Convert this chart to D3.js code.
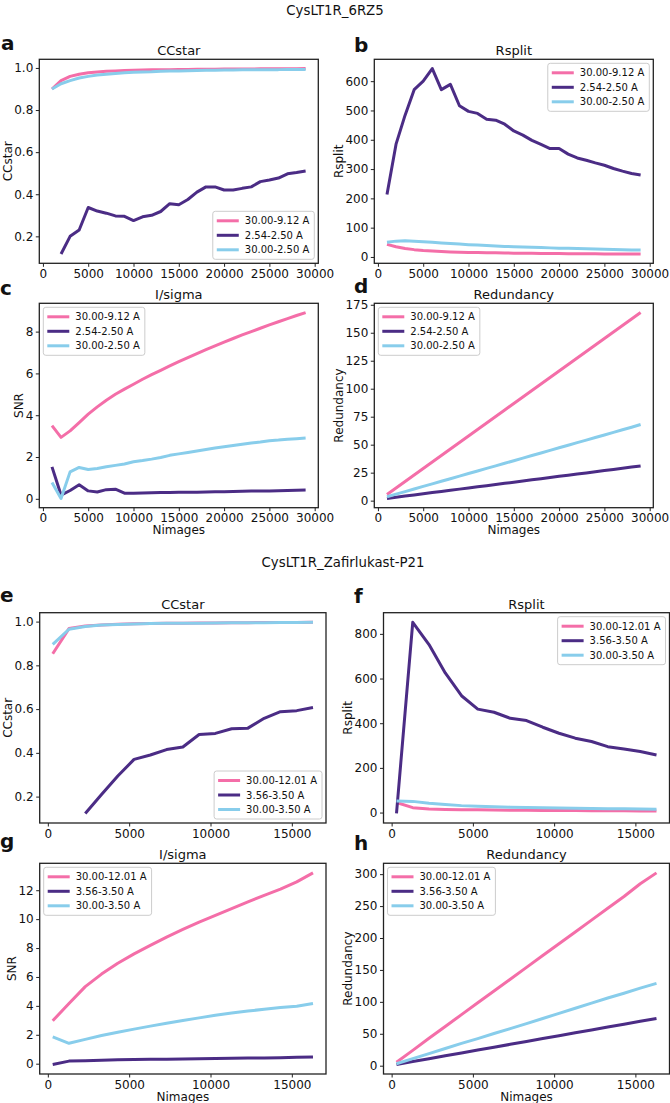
<!DOCTYPE html>
<html><head><meta charset="utf-8">
<script src="https://cdn.jsdelivr.net/npm/d3@7"></script>
<style>body{margin:0;background:#fff} svg{display:block} text{font-family:"DejaVu Sans",sans-serif;fill:#111}</style>
</head><body><svg id="c" width="670" height="1103"></svg>
<script>
// ---------- data ----------
const xTop = [1000,2000,3000,4000,5000,6000,7000,8000,9000,10000,11000,12000,13000,14000,15000,16000,17000,18000,19000,20000,21000,22000,23000,24000,25000,26000,27000,28000,29000];
const xBot = [300,1300,2300,3300,4300,5300,6300,7300,8300,9300,10300,11300,12300,13300,14300,15300,16300];
const namesTop = ["30.00-9.12 A","2.54-2.50 A","30.00-2.50 A"];
const namesBot = ["30.00-12.01 A","3.56-3.50 A","30.00-3.50 A"];

const aLow   = [0.900,0.940,0.960,0.970,0.977,0.981,0.984,0.986,0.988,0.989,0.990,0.991,0.992,0.992,0.993,0.993,0.994,0.994,0.994,0.995,0.995,0.995,0.995,0.996,0.996,0.996,0.996,0.996,0.997];
const aShell = [null,0.116,0.200,0.230,0.337,0.320,0.310,0.297,0.295,0.275,0.293,0.300,0.318,0.355,0.350,0.375,0.410,0.435,0.435,0.420,0.420,0.428,0.435,0.460,0.468,0.477,0.497,0.503,0.510];
const aAll   = [0.900,0.925,0.940,0.952,0.960,0.966,0.970,0.974,0.977,0.979,0.981,0.982,0.984,0.985,0.986,0.987,0.988,0.989,0.989,0.990,0.990,0.991,0.991,0.992,0.992,0.992,0.993,0.993,0.993];

const bLow   = [43,35,29,25,22,20,18.5,17,16,15.5,15,14.5,14,13.5,13,12.8,12.5,12.2,12,11.5,11.3,11,10.8,10.6,10.5,10.3,10.2,10.1,10];
const bShell = [213,385,484,571,600,643,571,589,516,497,490,470,467,453,430,416,398,384,370,370,351,338,330,321,313,302,293,285,280];
const bAll   = [50,54,55,54,52,50,48,46,44,42,40.5,39,37.5,36,35,34,33,32,31,30,29.3,28.5,27.8,27,26.3,25.5,24.8,24,23.5];

const cLow   = [3.50,2.94,3.25,3.65,4.05,4.40,4.72,5.00,5.25,5.48,5.72,5.94,6.15,6.36,6.56,6.76,6.95,7.14,7.32,7.50,7.67,7.84,8.00,8.16,8.32,8.47,8.62,8.77,8.91];
const cShell = [1.53,0.18,0.40,0.67,0.38,0.33,0.44,0.46,0.27,0.27,0.28,0.29,0.30,0.30,0.31,0.32,0.32,0.33,0.34,0.34,0.35,0.36,0.37,0.38,0.38,0.39,0.40,0.41,0.42];
const cAll   = [0.78,0.02,1.29,1.50,1.40,1.45,1.53,1.60,1.67,1.77,1.83,1.90,1.98,2.08,2.15,2.22,2.29,2.36,2.43,2.49,2.55,2.61,2.67,2.72,2.78,2.81,2.85,2.88,2.91];

const dLow   = [5.5,11.3,17.1,22.9,28.7,34.5,40.3,46.2,52.0,57.8,63.6,69.4,75.2,81.0,86.8,92.6,98.4,104.2,110.0,115.8,121.6,127.4,133.2,139.0,144.8,150.6,156.4,162.2,168.0];
const dShell = [2.0,3.0,4.1,5.1,6.1,7.2,8.2,9.3,10.3,11.3,12.4,13.4,14.4,15.5,16.5,17.6,18.6,19.6,20.7,21.7,22.7,23.8,24.8,25.8,26.9,27.9,28.9,30.0,31.0];
const dAll   = [3.5,5.8,8.1,10.4,12.7,15.0,17.3,19.6,21.9,24.2,26.5,28.8,31.1,33.4,35.7,38.0,40.3,42.6,44.9,47.2,49.5,51.8,54.1,56.4,58.7,61.0,63.3,65.6,68.0];

const eLow   = [0.853,0.968,0.980,0.985,0.988,0.990,0.991,0.992,0.993,0.994,0.994,0.995,0.995,0.996,0.996,0.996,0.997];
const eShell = [null,null,0.123,0.210,0.294,0.370,0.390,0.415,0.427,0.484,0.489,0.510,0.513,0.558,0.588,0.593,0.607];
const eAll   = [0.896,0.965,0.978,0.984,0.987,0.989,0.991,0.992,0.993,0.993,0.994,0.995,0.995,0.995,0.996,0.996,0.997];

const fLow   = [45,22,16,14,13,12,11,10.5,10,9.5,9,8.7,8.3,8,7.7,7.3,7];
const fShell = [-4,852,752,625,523,463,449,422,412,382,355,333,318,295,285,273,258];
const fAll   = [52,50,42,36,31,28,26,24,22.5,21,20,19,18,17,16.5,15.5,15];

const gLow   = [2.97,4.17,5.33,6.20,6.95,7.60,8.18,8.76,9.29,9.80,10.26,10.72,11.19,11.65,12.07,12.58,13.20];
const gShell = [-0.05,0.18,0.20,0.24,0.27,0.29,0.30,0.31,0.32,0.34,0.36,0.37,0.39,0.40,0.42,0.44,0.46];
const gAll   = [1.85,1.41,1.68,1.95,2.18,2.39,2.60,2.80,2.99,3.17,3.35,3.50,3.64,3.77,3.88,3.98,4.17];

const hLow   = [5.5,24,43,61.5,80,98.5,117,135.5,154,172.5,191,209.5,228,246.5,265,285,302];
const hShell = [2,6.5,11,15.5,20,24.5,29,33.5,38,42.5,47,51.5,56,60.5,65,69.5,74];
const hAll   = [3,11,19,27,35,42.5,50.5,58,66,74,82,90,98,106,113.5,121.5,129];

const ticksXTop = [0,5000,10000,15000,20000,25000,30000];
const ticksXBot = [0,5000,10000,15000];
const ticksCC   = [0.2,0.4,0.6,0.8,1.0];
const ticksRsTop = [0,100,200,300,400,500,600];
const ticksRsBot = [0,200,400,600,800];
const ticksSnrTop = [0,2,4,6,8];
const ticksSnrBot = [0,2,4,6,8,10,12];
const ticksRedTop = [0,25,50,75,100,125,150,175];
const ticksRedBot = [0,50,100,150,200,250,300];

// ---------- drawing ----------
const svg = d3.select("#c");
const colors = ["#f46ea8","#4b2c85","#88cdeb"];
const f1 = d3.format(".1f"), f0 = d3.format("d");

svg.append("text").attr("x",335).attr("y",15).attr("text-anchor","middle").style("font-size","13.3px").text("CysLT1R_6RZ5");
svg.append("text").attr("x",343).attr("y",567).attr("text-anchor","middle").style("font-size","13.3px").text("CysLT1R_Zafirlukast-P21");

function pad(ext){ const r = ext[1]-ext[0]; return [ext[0]-0.05*r, ext[1]+0.05*r]; }

function panel(c){
  const g = svg.append("g");
  const pts = [];
  c.series.forEach(s => s.forEach((v,i)=>{ if(v!==null) pts.push([c.xs[i],v]); }));
  const x = d3.scaleLinear().domain(pad(d3.extent(pts,d=>d[0]))).range([c.L,c.R]);
  const y = d3.scaleLinear().domain(pad(d3.extent(pts,d=>d[1]))).range([c.B,c.T]);

  const line = d3.line().defined(d=>d[1]!==null).x(d=>x(d[0])).y(d=>y(d[1]));
  c.series.forEach((s,k)=>{
    g.append("path").datum(s.map((v,i)=>[c.xs[i],v]))
      .attr("d",line).attr("fill","none").attr("stroke",colors[k])
      .attr("stroke-width",3).attr("stroke-linejoin","round").attr("stroke-linecap","butt");
  });

  const xa = g.append("g").attr("transform",`translate(0,${c.B})`)
    .call(d3.axisBottom(x).tickValues(c.xticks).tickFormat(f0).tickSize(3.5).tickPadding(2.5));
  const ya = g.append("g").attr("transform",`translate(${c.L},0)`)
    .call(d3.axisLeft(y).tickValues(c.yticks).tickFormat(c.yfmt).tickSize(3.5).tickPadding(2.5));
  [xa,ya].forEach(a=>{
    a.select(".domain").remove();
    a.selectAll(".tick line").attr("stroke","#222").attr("stroke-width",1);
    a.selectAll(".tick text").style("font-size","12px").style("font-family","DejaVu Sans").attr("fill","#111");
  });

  g.append("rect").attr("x",c.L).attr("y",c.T).attr("width",c.R-c.L).attr("height",c.B-c.T)
    .attr("fill","none").attr("stroke","#222").attr("stroke-width",1.3);

  g.append("text").attr("x",(c.L+c.R)/2).attr("y",c.T-4).attr("text-anchor","middle")
    .style("font-size","13px").text(c.title);
  const bb = ya.node().getBBox();
  g.append("text").attr("transform",`translate(${c.L+bb.x-2.5},${(c.T+c.B)/2}) rotate(-90)`)
    .attr("text-anchor","middle").style("font-size","12px").text(c.ylabel);
  if(c.xlabel) g.append("text").attr("x",(c.L+c.R)/2).attr("y",c.B+26.5).attr("text-anchor","middle")
    .style("font-size","12px").text(c.xlabel);
  g.append("text").attr("x",c.lx).attr("y",c.ly).style("font-size","20px").style("font-weight","bold").text(c.letter);

  // legend
  const lg = g.append("g");
  const box = lg.append("rect");
  let tw = 0;
  c.names.forEach((n,i)=>{
    const yy = 9.5 + i*14.5;
    lg.append("line").attr("x1",4).attr("x2",26).attr("y1",yy).attr("y2",yy)
      .attr("stroke",colors[i]).attr("stroke-width",3);
    const t = lg.append("text").attr("x",32).attr("y",yy).attr("dy","0.35em").style("font-size","10px").text(n);
    tw = Math.max(tw, t.node().getComputedTextLength());
  });
  const w = 32 + tw + 5, h = 48, gap = 4;
  box.attr("width",w).attr("height",h).attr("rx",2.5).attr("fill","#fff").attr("fill-opacity",0.8)
    .attr("stroke","#cccccc").attr("stroke-width",1);
  let bx, by;
  if(c.leg==="lr"){ bx=c.R-gap-w; by=c.B-gap-h; }
  else if(c.leg==="ur"){ bx=c.R-gap-w; by=c.T+gap; }
  else { bx=c.L+gap; by=c.T+gap; }
  lg.attr("transform",`translate(${bx},${by})`);
}

const topL = {a:[39.3,318.3], b:[374.3,653.3]};
const botL = {a:[39.7,326], b:[383.5,669.5]};

panel({L:topL.a[0],R:topL.a[1],T:59.3,B:263.3,xs:xTop,series:[aLow,aShell,aAll],names:namesTop,
  xticks:ticksXTop,yticks:ticksCC,yfmt:f1,title:"CCstar",ylabel:"CCstar",letter:"a",lx:1,ly:50,leg:"lr"});
panel({L:topL.b[0],R:topL.b[1],T:59.3,B:263.3,xs:xTop,series:[bLow,bShell,bAll],names:namesTop,
  xticks:ticksXTop,yticks:ticksRsTop,yfmt:f0,title:"Rsplit",ylabel:"Rsplit",letter:"b",lx:354,ly:51.5,leg:"ur"});
panel({L:topL.a[0],R:topL.a[1],T:303.3,B:507.7,xs:xTop,series:[cLow,cShell,cAll],names:namesTop,
  xticks:ticksXTop,yticks:ticksSnrTop,yfmt:f0,title:"I/sigma",ylabel:"SNR",xlabel:"Nimages",letter:"c",lx:0,ly:295,leg:"ul"});
panel({L:topL.b[0],R:topL.b[1],T:303.3,B:507.7,xs:xTop,series:[dLow,dShell,dAll],names:namesTop,
  xticks:ticksXTop,yticks:ticksRedTop,yfmt:f0,title:"Redundancy",ylabel:"Redundancy",xlabel:"Nimages",letter:"d",lx:354,ly:292.5,leg:"ul"});

panel({L:botL.a[0],R:botL.a[1],T:612.7,B:823,xs:xBot,series:[eLow,eShell,eAll],names:namesBot,
  xticks:ticksXBot,yticks:ticksCC,yfmt:f1,title:"CCstar",ylabel:"CCstar",letter:"e",lx:0,ly:601.5,leg:"lr"});
panel({L:botL.b[0],R:botL.b[1],T:612.7,B:823,xs:xBot,series:[fLow,fShell,fAll],names:namesBot,
  xticks:ticksXBot,yticks:ticksRsBot,yfmt:f0,title:"Rsplit",ylabel:"Rsplit",letter:"f",lx:354,ly:603,leg:"ur"});
panel({L:botL.a[0],R:botL.a[1],T:863.3,B:1074,xs:xBot,series:[gLow,gShell,gAll],names:namesBot,
  xticks:ticksXBot,yticks:ticksSnrBot,yfmt:f0,title:"I/sigma",ylabel:"SNR",xlabel:"Nimages",letter:"g",lx:0,ly:848,leg:"ul"});
panel({L:botL.b[0],R:botL.b[1],T:863.3,B:1074,xs:xBot,series:[hLow,hShell,hAll],names:namesBot,
  xticks:ticksXBot,yticks:ticksRedBot,yfmt:f0,title:"Redundancy",ylabel:"Redundancy",xlabel:"Nimages",letter:"h",lx:354,ly:850,leg:"ul"});
</script></body></html>
